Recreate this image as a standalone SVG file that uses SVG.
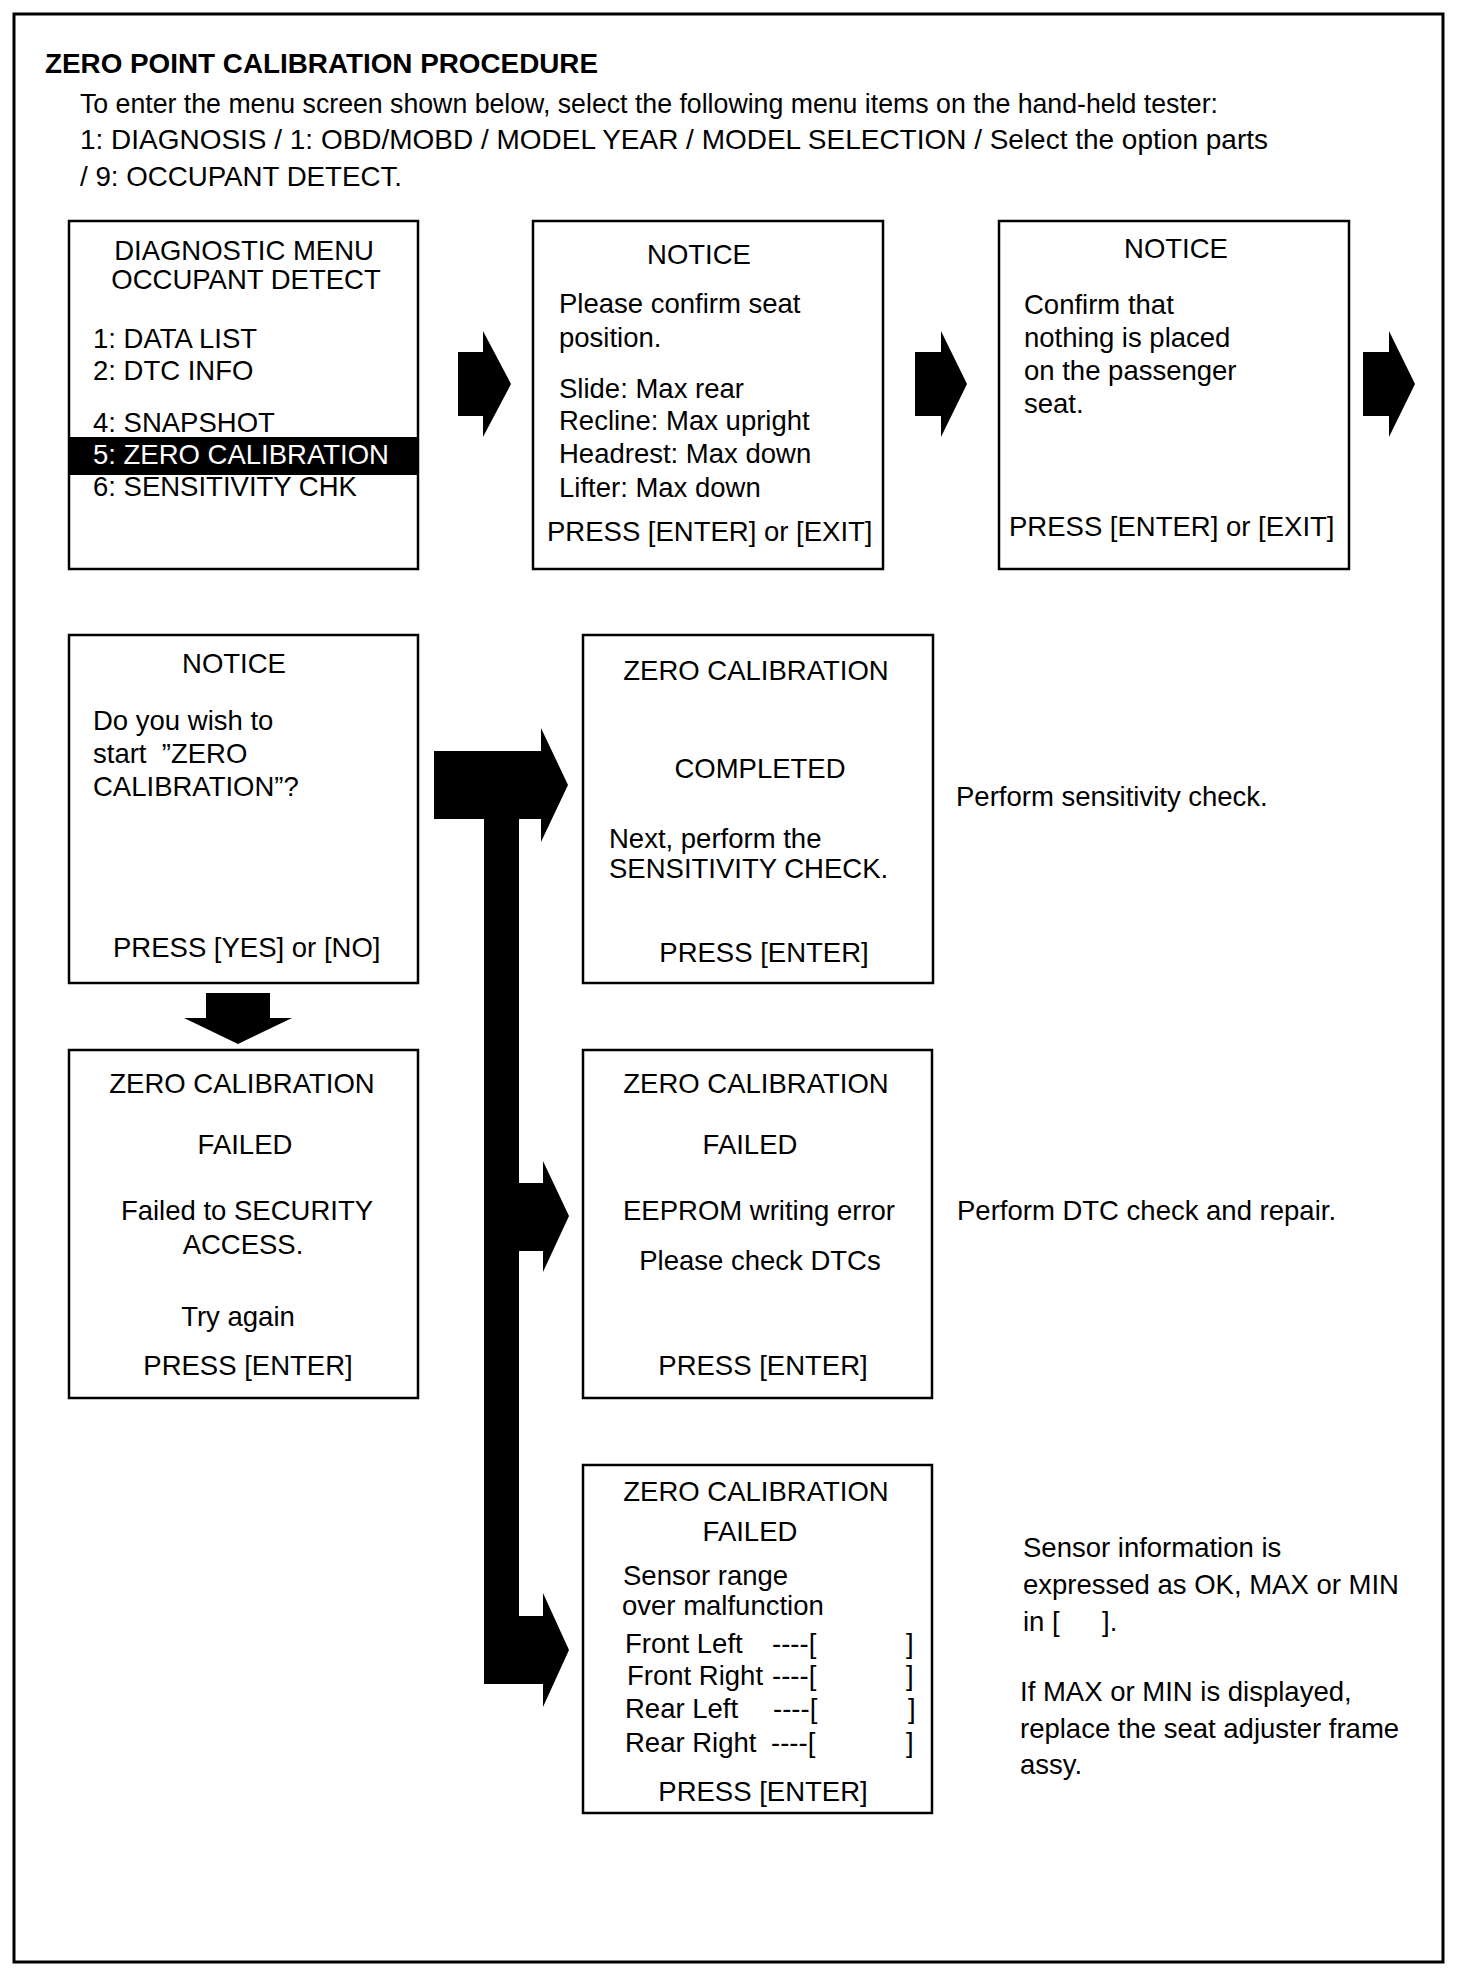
<svg xmlns="http://www.w3.org/2000/svg" width="1472" height="1980" viewBox="0 0 1472 1980">
<style>
.t{font-family:"Liberation Sans",Arial,Helvetica,sans-serif;font-size:27.5px;fill:#000}
.c{text-anchor:middle}
.w{fill:#fff}
.b{font-weight:bold}
.box{fill:#fff;stroke:#000;stroke-width:2.5}
.arr{fill:#000;stroke:none}
</style>
<rect x="0" y="0" width="1472" height="1980" fill="#fff"/>
<rect id="frame" x="14" y="14" width="1429" height="1948" fill="none" stroke="#000" stroke-width="3"/>

<g id="header">
<text class="t b" x="45" y="73" font-size="27" textLength="553" lengthAdjust="spacingAndGlyphs">ZERO POINT CALIBRATION PROCEDURE</text>
<text class="t" x="80" y="113" font-size="27" textLength="1138" lengthAdjust="spacingAndGlyphs">To enter the menu screen shown below, select the following menu items on the hand-held tester:</text>
<text class="t" x="80" y="149" font-size="27" textLength="1188" lengthAdjust="spacingAndGlyphs">1: DIAGNOSIS / 1: OBD/MOBD / MODEL YEAR / MODEL SELECTION / Select the option parts</text>
<text class="t" x="80" y="186" font-size="27" textLength="322" lengthAdjust="spacingAndGlyphs">/ 9: OCCUPANT DETECT.</text>
</g>

<g id="connectors">
<polygon class="arr" points="458,352 483,352 483,331 511,384 483,437 483,416 458,416"/>
<polygon class="arr" points="915,352 941,352 941,331 967,384 941,437 941,416 915,416"/>
<polygon class="arr" points="1363,352 1389,352 1389,331 1415,384 1389,437 1389,416 1363,416"/>
<polygon class="arr" points="206,993 270,993 270,1018 292,1018 238,1044 184,1018 206,1018"/>
<polygon class="arr" points="434,751 541,751 541,728 568,785 541,842 541,819 519,819 519,1183 543,1183 543,1161 569,1216 543,1272 543,1251 519,1251 519,1616 543,1616 543,1593 569,1650 543,1707 543,1684 484,1684 484,819 434,819"/>
</g>

<g id="n1">
<rect class="box" x="69" y="221" width="349" height="348"/>
<text class="t c" x="244" y="260">DIAGNOSTIC MENU</text>
<text class="t c" x="246" y="289">OCCUPANT DETECT</text>
<text class="t" x="93" y="348">1: DATA LIST</text>
<text class="t" x="93" y="380">2: DTC INFO</text>
<text class="t" x="93" y="432">4: SNAPSHOT</text>
<rect x="69" y="437" width="349" height="38" fill="#000"/>
<text class="t w" x="93" y="464">5: ZERO CALIBRATION</text>
<text class="t" x="93" y="496">6: SENSITIVITY CHK</text>
</g>

<g id="n2">
<rect class="box" x="533" y="221" width="350" height="348"/>
<text class="t c" x="699" y="264">NOTICE</text>
<text class="t" x="559" y="313">Please confirm seat</text>
<text class="t" x="559" y="347">position.</text>
<text class="t" x="559" y="398">Slide: Max rear</text>
<text class="t" x="559" y="430">Recline: Max upright</text>
<text class="t" x="559" y="463">Headrest: Max down</text>
<text class="t" x="559" y="497">Lifter: Max down</text>
<text class="t" x="547" y="541">PRESS [ENTER] or [EXIT]</text>
</g>

<g id="n3">
<rect class="box" x="999" y="221" width="350" height="348"/>
<text class="t c" x="1176" y="258">NOTICE</text>
<text class="t" x="1024" y="314">Confirm that</text>
<text class="t" x="1024" y="347">nothing is placed</text>
<text class="t" x="1024" y="380">on the passenger</text>
<text class="t" x="1024" y="413">seat.</text>
<text class="t" x="1009" y="536">PRESS [ENTER] or [EXIT]</text>
</g>

<g id="n4">
<rect class="box" x="69" y="635" width="349" height="348"/>
<text class="t c" x="234" y="673">NOTICE</text>
<text class="t" x="93" y="730">Do you wish to</text>
<text class="t" x="93" y="763">start&#160; ”ZERO</text>
<text class="t" x="93" y="796">CALIBRATION”?</text>
<text class="t" x="113" y="957">PRESS [YES] or [NO]</text>
</g>

<g id="n5">
<rect class="box" x="583" y="635" width="350" height="348"/>
<text class="t c" x="756" y="680">ZERO CALIBRATION</text>
<text class="t c" x="760" y="778">COMPLETED</text>
<text class="t" x="609" y="848">Next, perform the</text>
<text class="t" x="609" y="878">SENSITIVITY CHECK.</text>
<text class="t c" x="764" y="962">PRESS [ENTER]</text>
</g>

<g id="n6">
<rect class="box" x="69" y="1050" width="349" height="348"/>
<text class="t c" x="242" y="1093">ZERO CALIBRATION</text>
<text class="t c" x="245" y="1154">FAILED</text>
<text class="t c" x="247" y="1220">Failed to SECURITY</text>
<text class="t c" x="243" y="1254">ACCESS.</text>
<text class="t c" x="238" y="1326">Try again</text>
<text class="t c" x="248" y="1375">PRESS [ENTER]</text>
</g>

<g id="n7">
<rect class="box" x="583" y="1050" width="349" height="348"/>
<text class="t c" x="756" y="1093">ZERO CALIBRATION</text>
<text class="t c" x="750" y="1154">FAILED</text>
<text class="t c" x="759" y="1220">EEPROM writing error</text>
<text class="t c" x="760" y="1270">Please check DTCs</text>
<text class="t c" x="763" y="1375">PRESS [ENTER]</text>
</g>

<g id="n8">
<rect class="box" x="583" y="1465" width="349" height="348"/>
<text class="t c" x="756" y="1501">ZERO CALIBRATION</text>
<text class="t c" x="750" y="1541">FAILED</text>
<text class="t" x="623" y="1585">Sensor range</text>
<text class="t" x="622" y="1615">over malfunction</text>
<text class="t" x="625" y="1653">Front Left</text>
<text class="t" x="772" y="1653">----[</text>
<text class="t" x="906" y="1653">]</text>
<text class="t" x="627" y="1685">Front Right</text>
<text class="t" x="772" y="1685">----[</text>
<text class="t" x="906" y="1685">]</text>
<text class="t" x="625" y="1718">Rear Left</text>
<text class="t" x="773" y="1718">----[</text>
<text class="t" x="908" y="1718">]</text>
<text class="t" x="625" y="1752">Rear Right</text>
<text class="t" x="771" y="1752">----[</text>
<text class="t" x="906" y="1752">]</text>
<text class="t c" x="763" y="1801">PRESS [ENTER]</text>
</g>

<g id="note1">
<text class="t" x="956" y="806">Perform sensitivity check.</text>
</g>
<g id="note2">
<text class="t" x="957" y="1220">Perform DTC check and repair.</text>
</g>
<g id="note3">
<text class="t" x="1023" y="1557">Sensor information is</text>
<text class="t" x="1023" y="1594">expressed as OK, MAX or MIN</text>
<text class="t" x="1023" y="1631">in [<tspan x="1102">].</tspan></text>
<text class="t" x="1020" y="1701">If MAX or MIN is displayed,</text>
<text class="t" x="1020" y="1738">replace the seat adjuster frame</text>
<text class="t" x="1020" y="1774">assy.</text>
</g>
</svg>
